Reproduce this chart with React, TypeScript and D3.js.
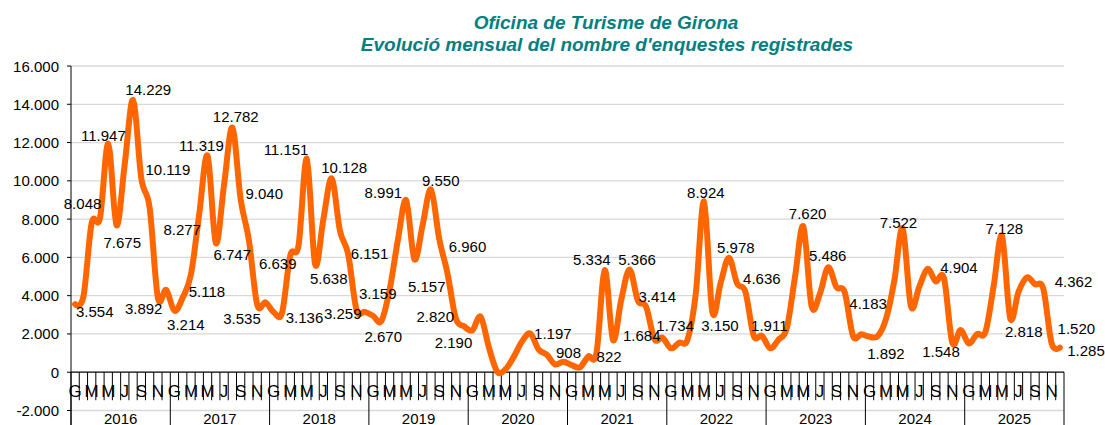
import React from "react";
import * as d3 from "d3";

const years = ["2016", "2017", "2018", "2019", "2020", "2021", "2022", "2023", "2024", "2025"];
const monthLetters = ["G", "F", "M", "A", "M", "J", "J", "A", "S", "O", "N", "D"];

const v2016 = [3554, 3950, 7800, 8048, 11947, 7675, 10900, 14229, 10119, 8600, 3892, 4300];
const v2017 = [3214, 3900, 5118, 8277, 11319, 6747, 9800, 12782, 9040, 6900, 3535, 3650];
const v2018 = [3136, 3100, 6100, 6639, 11151, 5638, 8000, 10128, 7400, 6151, 3259, 3159];
const v2019 = [2950, 2670, 4300, 6900, 8991, 5900, 7700, 9550, 6960, 5157, 2820, 2400];
const v2020 = [2190, 2900, 1300, 30, 150, 800, 1600, 2030, 1197, 908, 410, 550];
const v2021 = [375, 255, 822, 1000, 5334, 1684, 3800, 5366, 3750, 3414, 1734, 1800];
const v2022 = [1250, 1550, 1700, 4100, 8924, 3150, 4650, 5978, 4636, 4200, 1911, 1900];
const v2023 = [1250, 1700, 2300, 5000, 7620, 3450, 4100, 5486, 4450, 4183, 1900, 1980];
const v2024 = [1850, 1892, 2800, 4800, 7522, 3450, 4450, 5400, 4750, 4904, 1548, 2200];
const v2025 = [1500, 2000, 2100, 4500, 7128, 2818, 4200, 4950, 4600, 4362, 1520, 1285];

const yTicks = [-2000, 0, 2000, 4000, 6000, 8000, 10000, 12000, 14000, 16000];

// months (index into the series) that carry a value label
const labelledMonths = [
  0, 3, 4, 5, 7, 8, 10, 12, 14, 15, 16, 17, 19, 20, 22, 24, 27, 28, 29, 31, 33, 34, 35, 37,
  40, 43, 44, 45, 46, 48, 56, 57, 62, 64, 65, 67, 69, 70, 76, 77, 79, 80, 82, 88, 91, 93,
  97, 100, 105, 106, 112, 113, 117, 118, 119,
];

// label placement (offset from the point, px) — layout only
const labelOffsets: [number, number][] = [
  [19.6, 7.4], [-17.4, -15.1], [-4.9, -7.9], [5.7, 17.2], [15.2, -10.3], [26.5, -9.5], [-14.2, 10.5],
  [11.4, 14.2], [16, 17.3], [-17.1, 16], [-6.2, -9.9], [16.4, 11.7], [3.4, -10.6], [23.6, -6.1], [-15.2, 14.4],
  [30.8, 5], [-20.8, 18.7], [-20.8, -9.1], [13.6, 13.8], [12.5, -11.3], [21.3, -1.4], [-13.7, 4.1], [13, -18.5], [1.9, 15.5],
  [-22.8, -7.7], [9.8, -9], [28.3, 7.5], [-20.8, 13], [-20.5, -1.3], [-18.8, 12.4], [14.3, -16], [21.7, -2.5],
  [20.9, 0.2], [-12.9, -10.3], [28.7, -4], [7.5, -10.4], [11.1, -10.3], [20.7, -13.4],
  [1.8, -9.4], [7.6, 13.7], [7, -10.3], [24.7, -5.3], [15.6, -10], [4.3, -13.3], [-0.5, -11.4], [23.4, 11],
  [8.1, 17.3], [-4.2, -5.8], [14.9, -11.2], [-11.3, 9.1], [2.4, -7], [13.5, 13.4], [30.2, -7.1], [24.8, -14.2], [26.1, 2.4],
];

const FONT = "'Liberation Sans', Arial, sans-serif";

export default function App() {
  const W = 1105;
  const H = 425;
  const values = [...v2016, ...v2017, ...v2018, ...v2019, ...v2020, ...v2021, ...v2022, ...v2023, ...v2024, ...v2025];
  const n = values.length;

  const x = d3.scaleBand<number>().domain(d3.range(n)).range([71, 1064]).padding(0);
  const bw = x.bandwidth();
  const cx = (i: number) => (x(i) as number) + bw / 2;
  const y = d3.scaleLinear().domain([-2000, 16000]).range([410.5, 66]);

  const locale = d3.formatLocale({ decimal: ",", thousands: ".", grouping: [3], currency: ["", ""], minus: "-" });
  const fmt = locale.format(",d");

  const line = d3
    .line<number>()
    .x((_, i) => cx(i))
    .y((d) => y(d))
    .curve(d3.curveCardinal.tension(0));

  const x0 = 71;
  const x1 = 1064;
  const y0 = y(0);

  return (
    <svg width={W} height={H} style={{ position: "absolute", left: 0, top: 0, background: "#fff" }} fontFamily={FONT}>
      {/* title */}
      <text x={606} y={22} textAnchor="middle" dominantBaseline="central" fill="#008080" fontSize={19} fontWeight="bold" fontStyle="italic">
        Oficina de Turisme de Girona
      </text>
      <text x={607} y={44} textAnchor="middle" dominantBaseline="central" fill="#008080" fontSize={19} fontWeight="bold" fontStyle="italic">
        Evolució mensual del nombre d'enquestes registrades
      </text>

      {/* gridlines */}
      {yTicks.filter((t) => t !== 0).map((t) => (
        <line key={"g" + t} x1={x0} x2={x1} y1={y(t)} y2={y(t)} stroke="#D9D9D9" strokeWidth={1.3} />
      ))}

      {/* y axis */}
      <line x1={x0} x2={x0} y1={y(16000)} y2={H} stroke="#000" strokeWidth={1} />
      {yTicks.map((t) => (
        <g key={"yt" + t}>
          <line x1={x0 - 4} x2={x0} y1={y(t)} y2={y(t)} stroke="#000" strokeWidth={1} />
          <text x={59} y={y(t)} textAnchor="end" dominantBaseline="central" fontSize={15} fill="#000">
            {fmt(t)}
          </text>
        </g>
      ))}

      {/* x axis */}
      <line x1={x0} x2={x1} y1={y0} y2={y0} stroke="#000" strokeWidth={1.2} />
      {d3.range(n + 1).map((i) => {
        const xx = x0 + i * bw;
        const isYear = i % 12 === 0;
        return <line key={"xt" + i} x1={xx} x2={xx} y1={y0} y2={isYear ? H : y0 + 28} stroke="#000" strokeWidth={1} />;
      })}
      {d3.range(n).filter((i) => i % 2 === 0).map((i) => (
        <text key={"m" + i} x={cx(i)} y={391} textAnchor="middle" dominantBaseline="central" fontSize={17} fill="#000">
          {monthLetters[i % 12]}
        </text>
      ))}
      {years.map((yr, k) => (
        <text key={yr} x={x0 + (k * 12 + 6) * bw} y={418} textAnchor="middle" dominantBaseline="central" fontSize={15} fill="#000">
          {yr}
        </text>
      ))}

      {/* series */}
      <path d={line(values) || ""} fill="none" stroke="#FF6600" strokeWidth={6} strokeLinejoin="round" strokeLinecap="round" />

      {/* data labels */}
      {labelledMonths.map((i, k) => (
        <text
          key={"l" + i}
          x={cx(i) + labelOffsets[k][0]}
          y={y(values[i]) + labelOffsets[k][1]}
          textAnchor="middle"
          dominantBaseline="central"
          fontSize={15}
          fill="#000"
        >
          {fmt(values[i])}
        </text>
      ))}
    </svg>
  );
}
